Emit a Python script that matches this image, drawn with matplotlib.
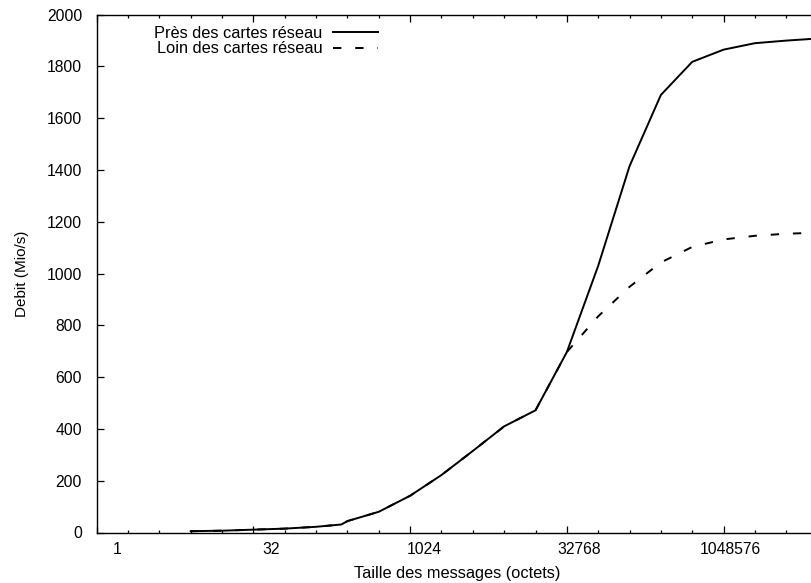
import matplotlib
matplotlib.use('Agg')
import matplotlib.pyplot as plt
from matplotlib.transforms import ScaledTranslation, blended_transform_factory
from matplotlib.ticker import FixedLocator, NullFormatter

plt.rcParams['font.family'] = ['Liberation Sans', 'DejaVu Sans']
plt.rcParams['lines.scale_dashes'] = False

# ---- data ----
sizes = [8, 16, 32, 64, 128, 224, 256, 512, 1024, 2048, 4096, 8192, 16384,
         32768, 65536, 131072, 262144, 524288, 1048576, 2097152, 4194304, 8388608]
pres = [5, 7, 11, 15, 22, 31, 44, 80, 142, 222, 315, 410, 472,
        697, 1030, 1415, 1690, 1818, 1865, 1890, 1900, 1908]
loin = [5, 7, 11, 15, 22, 31, 44, 80, 142, 222, 315, 410, 472,
        697, 835, 949, 1043, 1103, 1132, 1146, 1154, 1158]
series_labels = ['Près des cartes réseau', 'Loin des cartes réseau']
xtick_values = [1, 32, 1024, 32768, 1048576]
xtick_labels = ['1', '32', '1024', '32768', '1048576']
ytick_values = [0, 200, 400, 600, 800, 1000, 1200, 1400, 1600, 1800, 2000]
xlabel = 'Taille des messages (octets)'
ylabel = 'Debit (Mio/s)'

# ---- style ----
label_shift_px = [20, 18, 14, 12, 7]
W, H = 811, 583

fig = plt.figure(figsize=(W / 100, H / 100), dpi=100)
ax = fig.add_axes([96.7 / W, (H - 532.5) / H, (817.6 - 96.7) / W, (532.5 - 14.7) / H])

l1, = ax.plot(sizes, pres, color='black', lw=1.4, solid_joinstyle='miter')
l2, = ax.plot(sizes, loin, color='black', lw=1.4, dashes=(6, 10))

ax.set_xscale('log', base=2)
ax.set_xlim(1, 2 ** 23)
ax.set_ylim(0, 2000)
ax.xaxis.set_major_locator(FixedLocator(xtick_values))
ax.xaxis.set_minor_locator(FixedLocator([2 ** k for k in range(24)]))
ax.xaxis.set_major_formatter(NullFormatter())
ax.xaxis.set_minor_formatter(NullFormatter())
ax.set_yticks(ytick_values)
ax.set_yticklabels([str(v) for v in ytick_values])

ax.tick_params(axis='x', which='both', direction='in', top=True, bottom=True, width=0.9)
ax.tick_params(axis='x', which='major', length=5.2)
ax.tick_params(axis='x', which='minor', length=2.4)
ax.tick_params(axis='y', direction='in', left=True, right=True, length=5.2, width=0.9,
               pad=10.5, labelsize=11.3)
for s in ax.spines.values():
    s.set_linewidth(1.0)

# x tick labels (as text, slightly shifted to the right like the original)
trans = blended_transform_factory(ax.transData, ax.transAxes)
for v, lab, off in zip(xtick_values, xtick_labels, label_shift_px):
    ax.text(v, 0, lab, fontsize=11.3, ha='center', va='center',
            transform=trans + ScaledTranslation(off / 100, -16.5 / 100, fig.dpi_scale_trans),
            clip_on=False)

ax.set_xlabel(xlabel, fontsize=11.8, labelpad=20.5)
ax.set_ylabel(ylabel, fontsize=11, labelpad=12.5)

ax.legend([l1, l2], series_labels, loc='upper left',
          bbox_to_anchor=(154 / W, 1 - 25.5 / H), bbox_transform=fig.transFigure,
          frameon=False, markerfirst=False, handlelength=2.75, handletextpad=0.67,
          borderpad=0, borderaxespad=0, labelspacing=0.05, fontsize=11.8)

fig.savefig('out.png', dpi=100)
